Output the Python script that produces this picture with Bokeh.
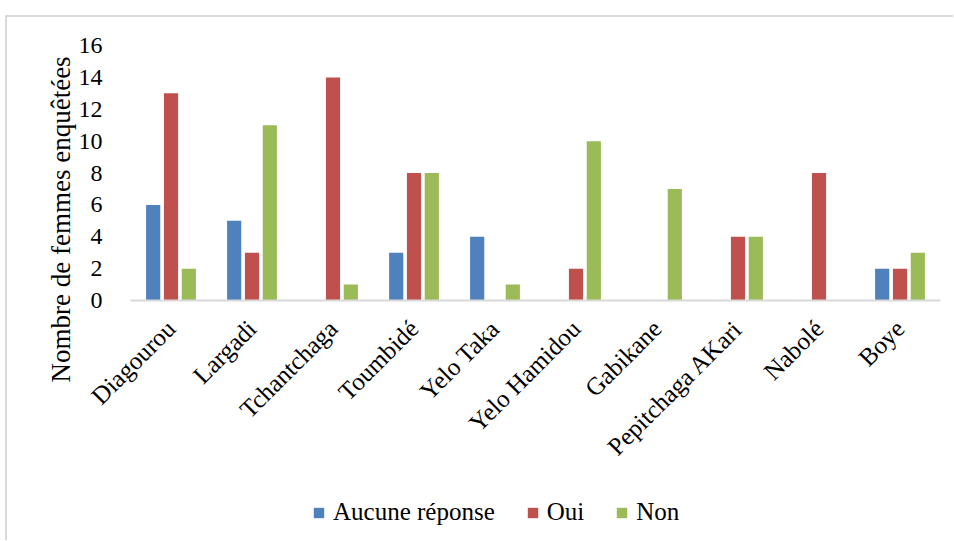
import math
from bokeh.plotting import figure
from bokeh.layouts import column
from bokeh.models import (ColumnDataSource, FactorRange, Range1d, FixedTicker, Legend,
                          LegendItem, Title)
from bokeh.transform import dodge
from bokeh.embed import file_html
from bokeh.resources import INLINE

categories = ["Diagourou", "Largadi", "Tchantchaga", "Toumbidé", "Yelo Taka",
              "Yelo Hamidou", "Gabikane", "Pepitchaga AKari", "Nabolé", "Boye"]
aucune = [6, 5, 0, 3, 4, 0, 0, 0, 0, 2]
oui = [13, 3, 14, 8, 0, 2, 0, 4, 8, 2]
non = [2, 11, 1, 8, 1, 10, 7, 4, 0, 3]
series_names = ["Aucune réponse", "Oui", "Non"]
colors = ["#4F81BD", "#C0504D", "#9BBB59"]
y_ticks = [0, 2, 4, 6, 8, 10, 12, 14, 16]
y_title = "Nombre de femmes enquêtées"

FONT = "Liberation Serif"
W = 946
fields = ["aucune", "oui", "non"]
offsets = [-0.22, 0.0, 0.22]

src = ColumnDataSource(dict(cat=categories, aucune=aucune, oui=oui, non=non))

p = figure(x_range=FactorRange(factors=categories), y_range=Range1d(0, 16),
           width=W, height=470, output_backend="svg", toolbar_location=None,
           min_border_left=123, min_border_right=13, min_border_top=28,
           min_border_bottom=187)

p.outline_line_color = None
p.xgrid.grid_line_color = None
p.ygrid.grid_line_color = None

for field, off, col in zip(fields, offsets, colors):
    p.vbar(x=dodge("cat", off, range=p.x_range), top=field, width=0.175,
           source=src, fill_color=col, line_color=None)

p.yaxis.ticker = FixedTicker(ticks=y_ticks)
p.yaxis.axis_line_color = None
p.yaxis.major_tick_line_color = None
p.yaxis.minor_tick_line_color = None
p.yaxis.major_label_standoff = 22
p.yaxis.major_label_text_font = FONT
p.yaxis.major_label_text_font_size = "24px"
p.yaxis.major_label_text_color = "black"

# vertical axis title: starts below the plot area, as in the Excel original
ytitle = Title(text=y_title, align="left", offset=-82, standoff=0,
               text_font=FONT, text_font_size="27px", text_font_style="normal",
               text_color="black")
p.add_layout(ytitle, "left")

p.xaxis.axis_line_color = "#d9d9d9"
p.xaxis.axis_line_width = 2
p.xaxis.major_tick_line_color = None
p.xaxis.minor_tick_line_color = None
p.xaxis.major_label_orientation = math.pi / 4
p.xaxis.major_label_standoff = 18
p.xaxis.major_label_text_font = FONT
p.xaxis.major_label_text_font_size = "25px"
p.xaxis.major_label_text_color = "black"

# legend strip (separate canvas under the chart); its bars lie outside its visible y range
p2 = figure(x_range=FactorRange(factors=categories), y_range=Range1d(100, 101), width=W, height=53,
            output_backend="svg", toolbar_location=None,
            x_axis_location=None, y_axis_location=None,
            min_border_left=0, min_border_right=0, min_border_top=0, min_border_bottom=0)
p2.outline_line_color = None
p2.xgrid.grid_line_color = None
p2.ygrid.grid_line_color = None
leg_renderers = [p2.vbar(x=dodge("cat", off, range=p2.x_range), top=field, width=0.175,
                         source=src, fill_color=c, line_color=None)
                 for field, off, c in zip(fields, offsets, colors)]
legend = Legend(items=[LegendItem(label=n, renderers=[r], index=0)
                       for n, r in zip(series_names, leg_renderers)],
                orientation="horizontal", location=(182, 14),
                label_text_font=FONT, label_text_font_size="25px", label_text_color="black",
                glyph_width=13, glyph_height=13, label_standoff=8, spacing=31,
                padding=0, margin=0, border_line_color=None, background_fill_alpha=0)
p2.add_layout(legend, "center")

layout = column(p, p2, spacing=0,
                styles={"margin-left": "5px", "margin-top": "15px",
                        "border-top": "2px solid #d9d9d9", "border-left": "2px solid #d9d9d9"})

open("out.html", "w").write(file_html(layout, INLINE))
